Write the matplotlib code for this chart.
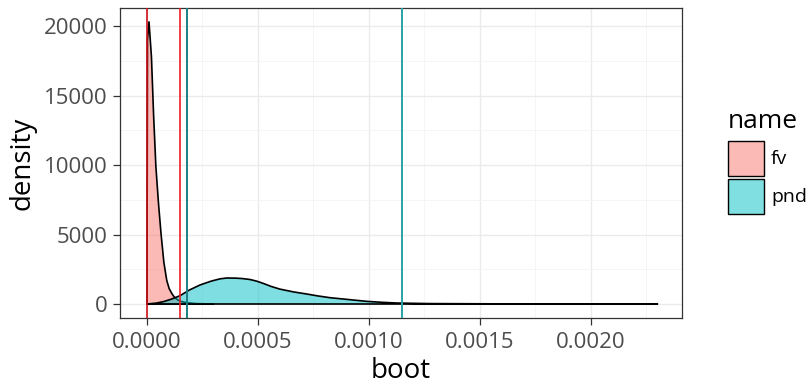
import matplotlib
matplotlib.use("Agg")
from matplotlib import pyplot as plt
from matplotlib.patches import Rectangle
from matplotlib.ticker import MultipleLocator

plt.rcParams["font.family"] = ["Open Sans", "DejaVu Sans"]

# density curves
fv_x = [0.0, 0.000002, 0.000009, 0.000020, 0.000030, 0.000040, 0.000052, 0.000063,
        0.000076, 0.000089, 0.000100, 0.000112, 0.000123, 0.000136, 0.000149, 0.000180,
        0.000220, 0.000300]
fv_y = [0, 19000, 20300, 17800, 13500, 9900, 7200, 5100,
        3000, 1700, 1100, 750, 500, 320, 200, 90, 30, 0]

pnd_x = [0.0, 0.000040, 0.000073, 0.000110, 0.000149, 0.000190, 0.000239, 0.000290,
         0.000329, 0.000359, 0.000400, 0.000430, 0.000465, 0.000495, 0.000524, 0.000560,
         0.000599, 0.000660, 0.000719, 0.000770, 0.000824, 0.000899, 0.000990, 0.001060,
         0.001125, 0.00127, 0.00159, 0.0023]
pnd_y = [0, 60, 165, 350, 600, 1000, 1370, 1650,
         1810, 1870, 1860, 1830, 1760, 1640, 1480, 1260,
         1070, 870, 720, 580, 455, 335, 190, 120,
         70, 30, 10, 0]

# interval lines
fv_lines = [0.0, 0.000150]
pnd_lines = [0.000182, 0.001150]

fig = plt.figure(figsize=(8.11, 3.86), dpi=100)
ax = fig.add_axes([120 / 811, 68 / 386, 562 / 811, 310 / 386])

ax.fill(fv_x, fv_y, facecolor="#F8766D", alpha=0.5, edgecolor="none", zorder=2)
ax.plot(fv_x + [fv_x[0]], fv_y + [fv_y[0]], color="black", lw=1.2, zorder=3)
ax.fill(pnd_x, pnd_y, facecolor="#00BFC4", alpha=0.5, edgecolor="none", zorder=4)
ax.plot(pnd_x + [pnd_x[0]], pnd_y + [pnd_y[0]], color="black", lw=1.2, zorder=5)

ax.axvline(fv_lines[0], color="#D0101A", lw=1.2, zorder=6)
ax.axvline(fv_lines[1], color="#EE1C22", lw=1.2, zorder=6)
ax.axvline(pnd_lines[0], color="#1B7F84", lw=1.4, zorder=6)
ax.axvline(pnd_lines[1], color="#2AA3A8", lw=1.4, zorder=6)

ax.set_xlim(-0.0001216, 0.002410)
ax.set_ylim(-1007, 21295)
ax.xaxis.set_minor_locator(MultipleLocator(0.00025))
ax.yaxis.set_major_locator(MultipleLocator(5000))
ax.yaxis.set_minor_locator(MultipleLocator(2500))
ax.set_xticks([0, 0.0005, 0.001, 0.0015, 0.002])
ax.set_xticklabels(["0.0000", "0.0005", "0.0010", "0.0015", "0.0020"])

ax.grid(which="major", color="#EBEBEB", lw=1.0, zorder=0)
ax.grid(which="minor", color="#F4F4F4", lw=0.6, zorder=0)
ax.set_axisbelow(True)
ax.tick_params(which="major", length=5, width=0.9, color="#333333",
               labelsize=16, labelcolor="#4D4D4D")
ax.tick_params(axis="x", pad=5)
ax.tick_params(axis="y", pad=4)
ax.tick_params(which="minor", length=0)
for s in ax.spines.values():
    s.set_color("#333333")
    s.set_linewidth(0.9)

ax.set_xlabel("boot", fontsize=20, labelpad=3)
ax.set_ylabel("density", fontsize=20, labelpad=5)

# legend drawn by hand in figure pixels
fig.text(728 / 811, 1 - 121 / 386, "name", fontsize=19, va="center", ha="left")
key_fill = ["#FBBAB6", "#7FDFE1"]
key_names = ["fv", "pnd"]
key_top = [141, 179]
for fc, nm, top in zip(key_fill, key_names, key_top):
    fig.patches.append(Rectangle((728 / 811, 1 - (top + 35) / 386), 36 / 811, 35 / 386,
                                 transform=fig.transFigure, facecolor=fc,
                                 edgecolor="black", lw=1.0))
    fig.text(771 / 811, 1 - (top + 17.5) / 386, nm, fontsize=14, va="center", ha="left")

fig.savefig("out.png", dpi=100)
